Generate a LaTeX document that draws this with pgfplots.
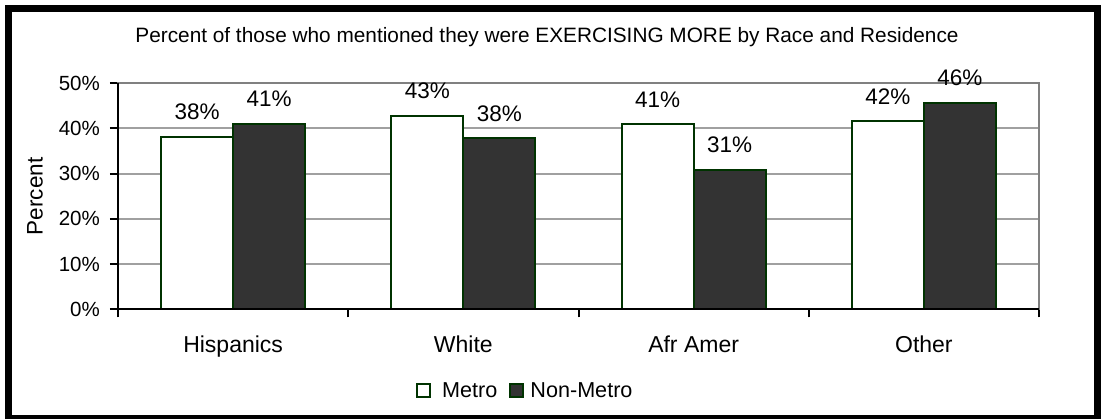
\documentclass[border=0pt]{standalone}
\usepackage{fontspec}
\setmainfont{Liberation Sans}
\usepackage{pgfplots}
\pgfplotsset{compat=1.18}

\definecolor{bargreen}{RGB}{0,51,0}
\definecolor{bardark}{RGB}{51,51,51}
\definecolor{gridgray}{RGB}{160,160,160}
\definecolor{boxgray}{RGB}{128,128,128}

\pgfplotsset{
  squarelegend/.style={
    legend image code/.code={\draw[##1, line width=2pt] (0pt,-6.5pt) rectangle (13pt,6.5pt);}
  }
}

\begin{document}
\begin{tikzpicture}[x=1pt,y=1pt]
\useasboundingbox (0,0) rectangle (1101,-419);
\begin{axis}[
  at={(118pt,-309.5pt)}, anchor=south west,
  scale only axis, width=921pt, height=226.5pt,
  xmin=-0.5, xmax=3.5, ymin=0, ymax=50,
  /pgf/number format/assume math mode=true,
  every axis title shift=0pt,
  title={Percent of those who mentioned they were EXERCISING MORE by Race and Residence},
  title style={at={(0.4658,1.181)}, anchor=base, inner sep=0pt, font=\fontsize{20.8pt}{24pt}\selectfont},
  ylabel={Percent},
  ylabel style={at={(-0.0901,0.5)}, anchor=center, inner sep=0pt, font=\fontsize{22.5pt}{26pt}\selectfont},
  ytick={0,10,20,30,40,50},
  yticklabel={\pgfmathprintnumber{\tick}\%},
  yticklabel style={anchor=east, inner sep=0pt, xshift=-10pt, font=\fontsize{20.5pt}{24pt}\selectfont},
  ytick pos=left,
  xtick={-0.5,0.5,1.5,2.5,3.5},
  xticklabels={Hispanics,White,Afr Amer,Other},
  x tick label as interval,
  xticklabel style={anchor=base, inner sep=0pt, yshift=-35.5pt, font=\fontsize{23pt}{27pt}\selectfont},
  xtick pos=left,
  tick align=outside,
  major tick length=8pt,
  tick style={black, line width=2pt},
  ymajorgrids, xmajorgrids=false,
  major grid style={gridgray, line width=2pt},
  axis line style={boxgray, line width=2pt},
  ybar=0pt,
  bar width=0.3125,
  nodes near coords={\pgfmathprintnumber[fixed, precision=0]{\pgfplotspointmeta}\%},
  every node near coord/.append style={anchor=base, inner sep=0pt, yshift=17pt, black,
    font=\fontsize{22.5pt}{26pt}\selectfont},
  legend style={at={(0.3236,-0.3576)}, anchor=west, draw=none, fill=none, inner sep=0pt,
    font=\fontsize{21.6pt}{25pt}\selectfont,
    /tikz/every odd column/.append style={column sep=4pt},
    /tikz/every even column/.append style={column sep=10pt}},
  legend columns=-1,
  after end axis/.code={
    \draw[black, line width=2pt] (rel axis cs:0,1) -- (rel axis cs:0,0) -- (rel axis cs:1,0);
  },
]
\addplot[fill=white, draw=bargreen, line width=2pt, squarelegend]
  coordinates {(0,38.1) (1,42.8) (2,40.9) (3,41.6)};
\addplot[fill=bardark, draw=bargreen, line width=2pt, squarelegend]
  coordinates {(0,41.0) (1,37.8) (2,30.9) (3,45.6)};
\legend{\hspace{5pt}Metro,Non-Metro}
\end{axis}
\draw[black, line width=7pt] (8.5,-9) rectangle (1097.5,-418.5);
\end{tikzpicture}
\end{document}
